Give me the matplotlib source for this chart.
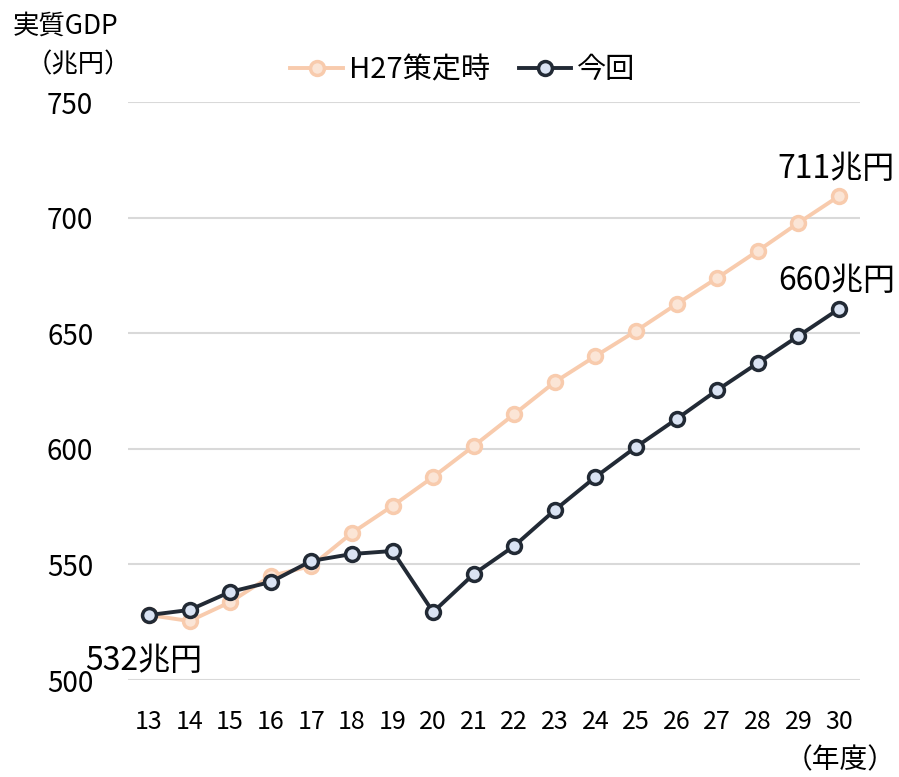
import matplotlib
matplotlib.use("Agg")
import matplotlib.pyplot as plt

plt.rcParams['font.family'] = ['Noto Sans CJK JP', 'DejaVu Sans']

years = list(range(13, 31))
h27 = [528.1, 525.5, 533.7, 545.0, 549.3, 563.6, 575.3, 587.8, 601.2, 615.0,
       628.9, 640.1, 651.0, 662.6, 673.9, 685.6, 697.7, 709.3]
now = [528.1, 530.3, 538.1, 542.4, 551.5, 554.5, 555.8, 529.4, 545.8, 558.0,
       573.5, 587.8, 600.8, 612.9, 625.4, 637.1, 648.8, 660.5]
yticks = [500, 550, 600, 650, 700, 750]

W, H = 899, 777
fig = plt.figure(figsize=(W / 100, H / 100), dpi=100)
ax = fig.add_axes([128 / W, 1 - 680 / H, 732 / W, 578 / H])

ax.plot(years, h27, color="#F8CBAD", lw=2.8, marker="o", ms=10, mew=2.5,
        mfc="#FBE5D6", mec="#F8CBAD", label="H27策定時", zorder=2)
ax.plot(years, now, color="#222A35", lw=2.8, marker="o", ms=10, mew=2.5,
        mfc="#DAE3F3", mec="#222A35", label="今回", zorder=3)

ax.set_ylim(500, 750)
ax.set_xlim(13 - 21 / 40.6, 30 + 21 / 40.6)
ax.set_yticks(yticks)
ax.set_xticks(years)
ax.tick_params(axis="y", labelsize=20, length=0, pad=25)
ax.tick_params(axis="x", labelsize=18, length=0, pad=21)
ax.grid(axis="y", color="#D9D9D9", lw=1.5)
ax.set_axisbelow(True)
for s in ax.spines.values():
    s.set_visible(False)


def px(x, y):
    # 画像のピクセル座標(左上原点) -> figure座標
    return x / W, 1 - y / H


fig.text(*px(13, 26), "実質GDP", fontsize=19, va="center", ha="left")
fig.text(*px(78, 65), "（兆円）", fontsize=19, va="center", ha="center")
fig.text(*px(840, 760), "（年度）", fontsize=20, va="center", ha="center")

fig.text(*px(144, 661), f"{532}兆円", fontsize=23, ha="center", va="center")
fig.text(*px(895, 169), f"{711}兆円", fontsize=23, ha="right", va="center")
fig.text(*px(895, 281), f"{660}兆円", fontsize=23, ha="right", va="center")

fig.legend(loc="center", bbox_to_anchor=px(463, 70), ncol=2, frameon=False,
           fontsize=21, handlelength=1.8, columnspacing=1.0, handletextpad=0.2)

fig.savefig("out.png", dpi=100)
